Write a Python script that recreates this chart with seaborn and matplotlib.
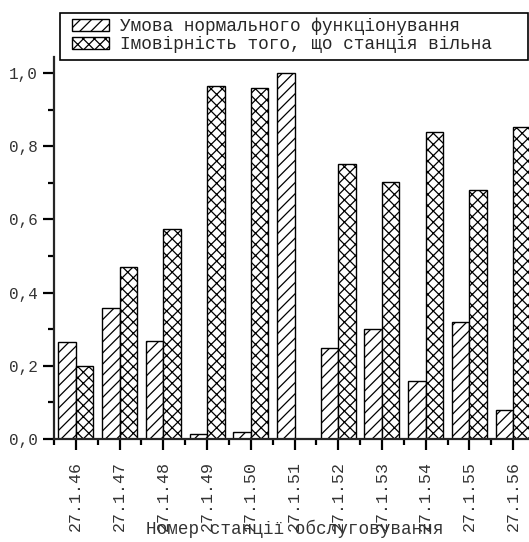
import numpy as np
import pandas as pd
import matplotlib
matplotlib.use("Agg")
import matplotlib.pyplot as plt
import matplotlib.patches as mpatches
from matplotlib.ticker import FixedLocator, FuncFormatter
import seaborn as sns

stations = ["27.1.46", "27.1.47", "27.1.48", "27.1.49", "27.1.50", "27.1.51",
            "27.1.52", "27.1.53", "27.1.54", "27.1.55", "27.1.56"]
normal_cond = [0.265, 0.358, 0.268, 0.014, 0.019, 1.0, 0.249, 0.30, 0.158, 0.32, 0.079]
prob_free = [0.20, 0.47, 0.574, 0.965, 0.959, 0.0, 0.751, 0.702, 0.839, 0.68, 0.852]
series_names = ["Умова нормального функціонування", "Імовірність того, що станція вільна"]
xlabel = "Номер станції обслуговування"

df = pd.DataFrame({
    "station": stations * 2,
    "value": normal_cond + prob_free,
    "series": [series_names[0]] * len(stations) + [series_names[1]] * len(stations),
})

sns.set_style("ticks")
plt.rcParams["font.family"] = ["Liberation Mono", "DejaVu Sans Mono"]
plt.rcParams["hatch.linewidth"] = 0.9

fig = plt.figure(figsize=(5.29, 5.42), dpi=100)
W, H = 529, 542
ax = fig.add_axes([54 / W, (542 - 439) / H, (535 - 54) / W, (439 - 57) / H])

sns.barplot(data=df, x="station", y="value", hue="series", order=stations,
            hue_order=series_names, ax=ax, width=0.8,
            palette=["white", "white"], edgecolor="black", linewidth=1.0,
            legend=False)

hatches = ["///", "xxx"]
for cont, h in zip(ax.containers, hatches):
    for p in cont:
        p.set_hatch(h)
        p.set_facecolor("white")
        p.set_edgecolor("black")

ax.set_xlim(-0.5, 10.5)
ax.set_ylim(0, 1.0437)
ax.spines["top"].set_visible(False)
ax.spines["right"].set_visible(False)
for s in ["left", "bottom"]:
    ax.spines[s].set_linewidth(1.6)

ax.yaxis.set_major_locator(FixedLocator([0, 0.2, 0.4, 0.6, 0.8, 1.0]))
ax.yaxis.set_minor_locator(FixedLocator([0.1, 0.3, 0.5, 0.7, 0.9]))
ax.yaxis.set_major_formatter(FuncFormatter(lambda v, p: f"{v:.1f}".replace(".", ",")))
ax.xaxis.set_minor_locator(FixedLocator(np.arange(-0.5, 11, 1.0)))

ax.tick_params(axis="both", which="major", direction="out", length=8, width=1.6,
               colors="black", labelcolor="#333333")
ax.tick_params(axis="y", which="major", labelsize=11.5)
ax.tick_params(axis="x", which="major", labelsize=12, pad=8)
ax.tick_params(axis="both", which="minor", direction="out", length=4, width=1.6,
               colors="black")
for lab in ax.get_xticklabels():
    lab.set_rotation(90)

ax.set_ylabel("")
ax.set_xlabel(xlabel, fontsize=12.7, color="#333333", labelpad=-8)

# legend box
fig.patches.append(mpatches.Rectangle((60 / W, 1 - 60 / H), (528 - 60) / W, 47 / H,
                                      transform=fig.transFigure, facecolor="white",
                                      edgecolor="black", linewidth=1.2, zorder=5))
handles = [mpatches.Patch(facecolor="white", edgecolor="black", hatch=h, label=n)
           for h, n in zip(hatches, series_names)]
leg = fig.legend(handles=handles, loc="upper left", bbox_to_anchor=(70 / W, 1 - 16 / H),
                 frameon=False, fontsize=12.8,
                 handlelength=2.1, handleheight=0.6, handletextpad=0.6,
                 borderpad=0.1, labelspacing=0.05, borderaxespad=0)
leg.set_zorder(6)

fig.savefig("out.png", dpi=100)
